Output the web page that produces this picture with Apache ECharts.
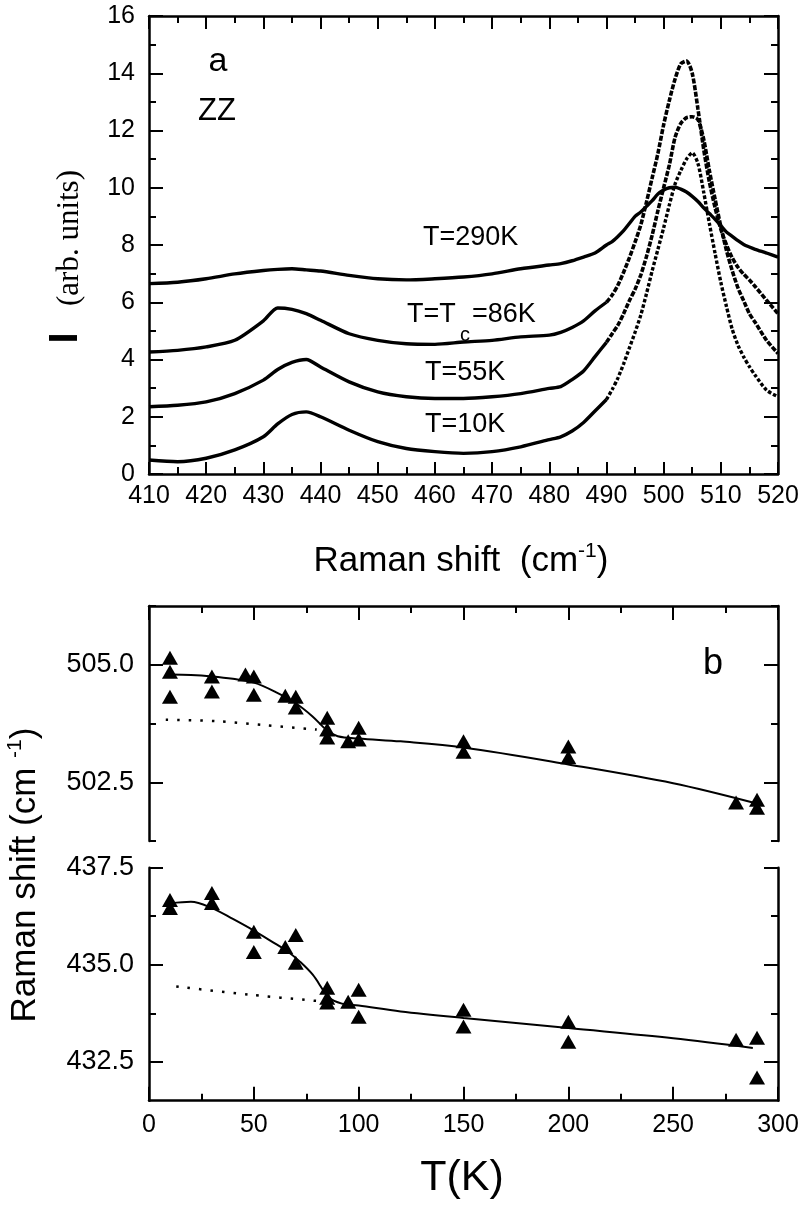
<!DOCTYPE html>
<html>
<head>
<meta charset="utf-8">
<script src="https://cdn.jsdelivr.net/npm/echarts@6/dist/echarts.min.js"></script>
<style>html,body{margin:0;padding:0;background:#fff}#c{width:802px;height:1208px}</style>
</head>
<body>
<div id="c"></div>
<script>
// ---------- Panel a: Raman spectra (ZZ) ----------
const shiftX = [410, 415, 420, 425, 430, 432.5, 435, 437.5, 440, 445, 450, 455, 460, 465, 470, 475, 480,
  482, 484, 486, 488,
  490, 491, 492, 493, 494, 495, 496, 497, 498, 499, 500, 501, 502, 503, 504, 505, 506, 507, 508, 509, 510, 511, 512, 513, 514, 515, 516,
  518, 520];
const i290 = [6.65, 6.70, 6.82, 6.99, 7.11, 7.15, 7.17, 7.13, 7.09, 6.94, 6.82, 6.78, 6.82, 6.88, 6.99, 7.17, 7.30,
  7.35, 7.45, 7.58, 7.72,
  8.00, 8.12, 8.30, 8.50, 8.75, 9.00, 9.15, 9.35, 9.55, 9.78, 9.92, 10.00, 10.02, 9.95, 9.85, 9.70, 9.52, 9.30, 9.10, 8.90, 8.68, 8.45, 8.30, 8.15, 8.02, 7.93, 7.85,
  7.72, 7.58];
const i86 = [4.26, 4.32, 4.44, 4.67, 5.35, 5.80, 5.75, 5.60, 5.37, 4.90, 4.67, 4.55, 4.53, 4.61, 4.67, 4.79, 4.85,
  4.95, 5.12, 5.35, 5.70,
  6.00, 6.25, 6.60, 7.05, 7.55, 8.10, 8.70, 9.50, 10.35, 11.20, 12.20, 13.05, 13.80, 14.33, 14.43, 14.00, 12.75, 11.35, 10.20, 9.30, 8.55, 8.00, 7.55, 7.22, 6.98, 6.78, 6.55,
  6.07, 5.60];
const i55 = [2.35, 2.40, 2.52, 2.81, 3.28, 3.65, 3.90, 4.00, 3.74, 3.22, 2.87, 2.70, 2.64, 2.64, 2.70, 2.81, 2.99,
  3.05, 3.30, 3.60, 4.10,
  4.60, 4.90, 5.20, 5.60, 6.05, 6.45, 6.95, 7.60, 8.35, 9.20, 10.00, 10.80, 11.76, 12.25, 12.45, 12.48, 12.38, 11.70, 10.60, 9.60, 8.65, 7.80, 7.10, 6.50, 6.05, 5.60, 5.30,
  4.67, 4.21];
const i10 = [0.49, 0.43, 0.55, 0.84, 1.30, 1.75, 2.08, 2.17, 2.00, 1.53, 1.13, 0.89, 0.78, 0.72, 0.78, 0.95, 1.20,
  1.30, 1.50, 1.80, 2.20,
  2.60, 2.95, 3.35, 3.85, 4.40, 4.95, 5.55, 6.30, 7.10, 7.85, 8.60, 9.40, 10.13, 10.60, 11.00, 11.22, 10.85, 9.85, 8.75, 7.70, 6.70, 5.84, 5.05, 4.50, 4.09, 3.75, 3.45,
  2.93, 2.70];
const splitShift = 490; // where the sparse (marker) part of the low-T spectra starts

// ---------- Panel b: phonon frequencies vs T ----------
const tempHigh = [10, 10, 10, 30, 30, 46, 50, 50, 65, 70, 70, 85, 85, 85, 95, 100, 100, 150, 150, 200, 200, 280, 290, 290];
const peakHigh = [505.15, 504.85, 504.32, 504.75, 504.43, 504.79, 504.75, 504.36, 504.34, 504.32, 504.09, 503.87, 503.62, 503.45, 503.37, 503.66, 503.41, 503.37, 503.15, 503.26, 503.03, 502.07, 502.13, 501.96];
const fitHighT = [10, 20, 30, 40, 50, 60, 70, 78, 85, 90, 100, 120, 150, 200, 250, 288];
const fitHigh = [504.79, 504.78, 504.75, 504.70, 504.62, 504.43, 504.18, 503.90, 503.60, 503.48, 503.43, 503.37, 503.24, 502.88, 502.48, 502.07];
const baseHighT = [8, 32, 56, 80];
const baseHigh = [503.83, 503.80, 503.71, 503.62];

const tempLow = [10, 10, 30, 30, 50, 50, 65, 70, 70, 85, 85, 85, 95, 100, 100, 150, 150, 200, 200, 280, 290, 290];
const peakLow = [436.67, 436.46, 436.85, 436.59, 435.85, 435.33, 435.46, 435.77, 435.05, 434.41, 434.15, 434.03, 434.05, 434.36, 433.66, 433.84, 433.41, 433.53, 433.02, 433.07, 433.12, 432.10];
const fitLowT = [10, 20, 30, 40, 50, 60, 66, 72, 78, 86, 92, 100, 120, 150, 200, 250, 288];
const fitLow = [436.58, 436.62, 436.46, 436.18, 435.88, 435.55, 435.35, 435.08, 434.75, 434.15, 434.00, 433.95, 433.80, 433.63, 433.37, 433.11, 432.86];
const baseLowT = [13, 48, 82];
const baseLow = [434.44, 434.23, 434.06];

// tick values of the broken y axes
const highRange = [501.25, 506.25];
const highMajor = [502.5, 505.0];
const highMinor = [501.25, 503.75, 506.25];
const lowRange = [431.5, 437.5];
const lowMajor = [432.5, 435.0, 437.5];
const lowMinor = [433.75, 436.25];

// ---------- styling ----------
const K = '#000';
const SANS = '"Liberation Sans", Arial, Helvetica, sans-serif';
const SERIF = '"Liberation Serif", "Times New Roman", serif';

function axis(o) {
  const a = {
    type: 'value',
    gridIndex: o.grid,
    position: o.pos,
    min: o.min, max: o.max,
    splitLine: { show: false },
    axisLine: { show: o.line !== false, onZero: false, lineStyle: { color: K, width: 2.5 } },
    axisTick: { show: true, inside: true, length: o.tickLen || 13, lineStyle: { color: K, width: 2 } },
    minorTick: { show: !!o.minor, splitNumber: 2, length: 7, lineStyle: { color: K, width: 2 } },
    axisLabel: { show: !!o.label, color: K, fontFamily: SANS, fontSize: o.label ? o.label.size : 12, margin: o.label ? o.label.margin : 8 },
    axisPointer: { show: false },
    z: 5
  };
  if (o.interval) a.interval = o.interval;
  if (o.ticks) a.axisTick.customValues = o.ticks;
  if (o.label && o.label.values) {
    a.axisLabel.customValues = o.label.values;
    a.axisLabel.formatter = v => Number(v).toFixed(1);
  }
  return a;
}

const pairs = (xs, ys) => xs.map((x, i) => [x, ys[i]]);
const part = (ys, lo, hi) => shiftX.map((x, i) => [x, ys[i]]).filter(p => p[0] >= lo && p[0] <= hi);

function spec(data, dash, width) {
  return {
    type: 'line', xAxisIndex: 0, yAxisIndex: 0, data: data, showSymbol: false, smooth: 0.25,
    lineStyle: { color: K, width: width || 3, type: dash || 'solid', cap: 'butt' }, z: 3
  };
}

const chart = echarts.init(document.getElementById('c'), null, { renderer: 'canvas' });
const option = {
  backgroundColor: '#fff',
  animation: false,
  grid: [
    { left: 149, top: 16, width: 629, height: 458 },
    { left: 149, top: 606, width: 629, height: 235 },
    { left: 149, top: 867.7, width: 629, height: 233 }
  ],
  xAxis: [
    axis({ grid: 0, pos: 'bottom', min: 410, max: 520, interval: 10, minor: true, tickLen: 12, label: { size: 25, margin: 10 } }),
    axis({ grid: 0, pos: 'top', min: 410, max: 520, interval: 10, minor: true, tickLen: 13 }),
    axis({ grid: 1, pos: 'top', min: 0, max: 300, interval: 50, minor: true, tickLen: 14 }),
    axis({ grid: 2, pos: 'bottom', min: 0, max: 300, interval: 50, minor: true, tickLen: 14, label: { size: 25, margin: 12 } })
  ],
  yAxis: [
    axis({ grid: 0, pos: 'left', min: 0, max: 16, interval: 2, minor: true, tickLen: 14, label: { size: 25, margin: 14 } }),
    axis({ grid: 0, pos: 'right', min: 0, max: 16, interval: 2, minor: true, tickLen: 14 }),
    axis({ grid: 1, pos: 'left', min: highRange[0], max: highRange[1], ticks: highMajor, tickLen: 14, label: { size: 27, margin: 15, values: highMajor } }),
    axis({ grid: 1, pos: 'left', min: highRange[0], max: highRange[1], ticks: highMinor, tickLen: 7, line: false }),
    axis({ grid: 1, pos: 'right', min: highRange[0], max: highRange[1], ticks: highMajor, tickLen: 14 }),
    axis({ grid: 1, pos: 'right', min: highRange[0], max: highRange[1], ticks: highMinor, tickLen: 7, line: false }),
    axis({ grid: 2, pos: 'left', min: lowRange[0], max: lowRange[1], ticks: lowMajor, tickLen: 14, label: { size: 27, margin: 15, values: lowMajor } }),
    axis({ grid: 2, pos: 'left', min: lowRange[0], max: lowRange[1], ticks: lowMinor, tickLen: 7, line: false }),
    axis({ grid: 2, pos: 'right', min: lowRange[0], max: lowRange[1], ticks: lowMajor, tickLen: 14 }),
    axis({ grid: 2, pos: 'right', min: lowRange[0], max: lowRange[1], ticks: lowMinor, tickLen: 7, line: false })
  ],
  series: [
    spec(pairs(shiftX, i290), 'solid', 3.4),
    spec(part(i86, 410, splitShift), 'solid', 3.4),
    spec(part(i86, splitShift, 520), [5, 1.6], 3.6),
    spec(part(i55, 410, splitShift), 'solid', 3.4),
    spec(part(i55, splitShift, 520), [5, 1.6], 3.6),
    spec(part(i10, 410, splitShift), 'solid', 3.4),
    spec(part(i10, splitShift, 520), [3.5, 2], 3.4),
    // panel b, upper (high-frequency mode)
    { type: 'line', xAxisIndex: 2, yAxisIndex: 2, data: pairs(fitHighT, fitHigh), showSymbol: false, smooth: 0.35,
      lineStyle: { color: K, width: 2 }, z: 3 },
    { type: 'line', xAxisIndex: 2, yAxisIndex: 2, data: pairs(baseHighT, baseHigh), showSymbol: false, smooth: 0.3,
      lineStyle: { color: K, width: 2.5, type: [2.5, 9] }, z: 3 },
    { type: 'scatter', xAxisIndex: 2, yAxisIndex: 2, data: pairs(tempHigh, peakHigh), symbol: 'triangle', symbolSize: [16, 14],
      itemStyle: { color: K, opacity: 1 }, z: 4 },
    // panel b, lower (low-frequency mode)
    { type: 'line', xAxisIndex: 3, yAxisIndex: 6, data: pairs(fitLowT, fitLow), showSymbol: false, smooth: 0.35,
      lineStyle: { color: K, width: 2 }, z: 3 },
    { type: 'line', xAxisIndex: 3, yAxisIndex: 6, data: pairs(baseLowT, baseLow), showSymbol: false, smooth: 0.3,
      lineStyle: { color: K, width: 2.5, type: [2.5, 9] }, z: 3 },
    { type: 'scatter', xAxisIndex: 3, yAxisIndex: 6, data: pairs(tempLow, peakLow), symbol: 'triangle', symbolSize: [16, 14],
      itemStyle: { color: K, opacity: 1 }, z: 4 }
  ],
  graphic: [
    { type: 'text', x: 218, y: 62, style: { text: 'a', fontSize: 34, fontFamily: SANS, fill: K, align: 'center', verticalAlign: 'middle' } },
    { type: 'text', x: 217, y: 111, style: { text: 'ZZ', fontSize: 31, fontFamily: SANS, fill: K, align: 'center', verticalAlign: 'middle' } },
    { type: 'text', x: 423, y: 238, style: { text: 'T=290K', fontSize: 27, fontFamily: SANS, fill: K, align: 'left', verticalAlign: 'middle' } },
    { type: 'text', x: 407, y: 315, style: { text: 'T=T', fontSize: 27, fontFamily: SANS, fill: K, align: 'left', verticalAlign: 'middle' } },
    { type: 'text', x: 460, y: 335, style: { text: 'c', fontSize: 20, fontFamily: SANS, fill: K, align: 'left', verticalAlign: 'middle' } },
    { type: 'text', x: 472, y: 315, style: { text: '=86K', fontSize: 27, fontFamily: SANS, fill: K, align: 'left', verticalAlign: 'middle' } },
    { type: 'text', x: 425, y: 373, style: { text: 'T=55K', fontSize: 27, fontFamily: SANS, fill: K, align: 'left', verticalAlign: 'middle' } },
    { type: 'text', x: 425, y: 425, style: { text: 'T=10K', fontSize: 27, fontFamily: SANS, fill: K, align: 'left', verticalAlign: 'middle' } },
    { type: 'text', x: 713, y: 664, style: { text: 'b', fontSize: 36, fontFamily: SANS, fill: K, align: 'center', verticalAlign: 'middle' } },
    // axis titles
    { type: 'text', x: 461, y: 561, style: {
        text: '{a|Raman shift  (cm}{s|-1}{a|)}', align: 'center', verticalAlign: 'middle',
        rich: { a: { fontSize: 35, fontFamily: SANS, fill: K, lineHeight: 40 },
                s: { fontSize: 21, fontFamily: SANS, fill: K, lineHeight: 21, verticalAlign: 'top' } } } },
    { type: 'text', x: 462, y: 1178, style: { text: 'T(K)', fontSize: 43, fontFamily: SANS, fill: K, align: 'center', verticalAlign: 'middle' } },
    { type: 'text', x: 25, y: 875, rotation: Math.PI / 2, style: {
        text: '{a|Raman shift (cm }{s|-1}{a|)}', align: 'center', verticalAlign: 'middle',
        rich: { a: { fontSize: 35, fontFamily: SANS, fill: K, lineHeight: 40 },
                s: { fontSize: 21, fontFamily: SANS, fill: K, lineHeight: 21, verticalAlign: 'top' } } } },
    { type: 'text', x: 66, y: 338, rotation: Math.PI / 2, style: { text: 'I', fontSize: 40, fontWeight: 'bold', fontFamily: SANS, fill: K, align: 'center', verticalAlign: 'middle' } },
    { type: 'text', x: 70, y: 238, rotation: Math.PI / 2, style: { text: '(arb. units)', fontSize: 31, fontFamily: SERIF, fill: K, align: 'center', verticalAlign: 'middle' } }
  ]
};
chart.setOption(option);
</script>
</body>
</html>
